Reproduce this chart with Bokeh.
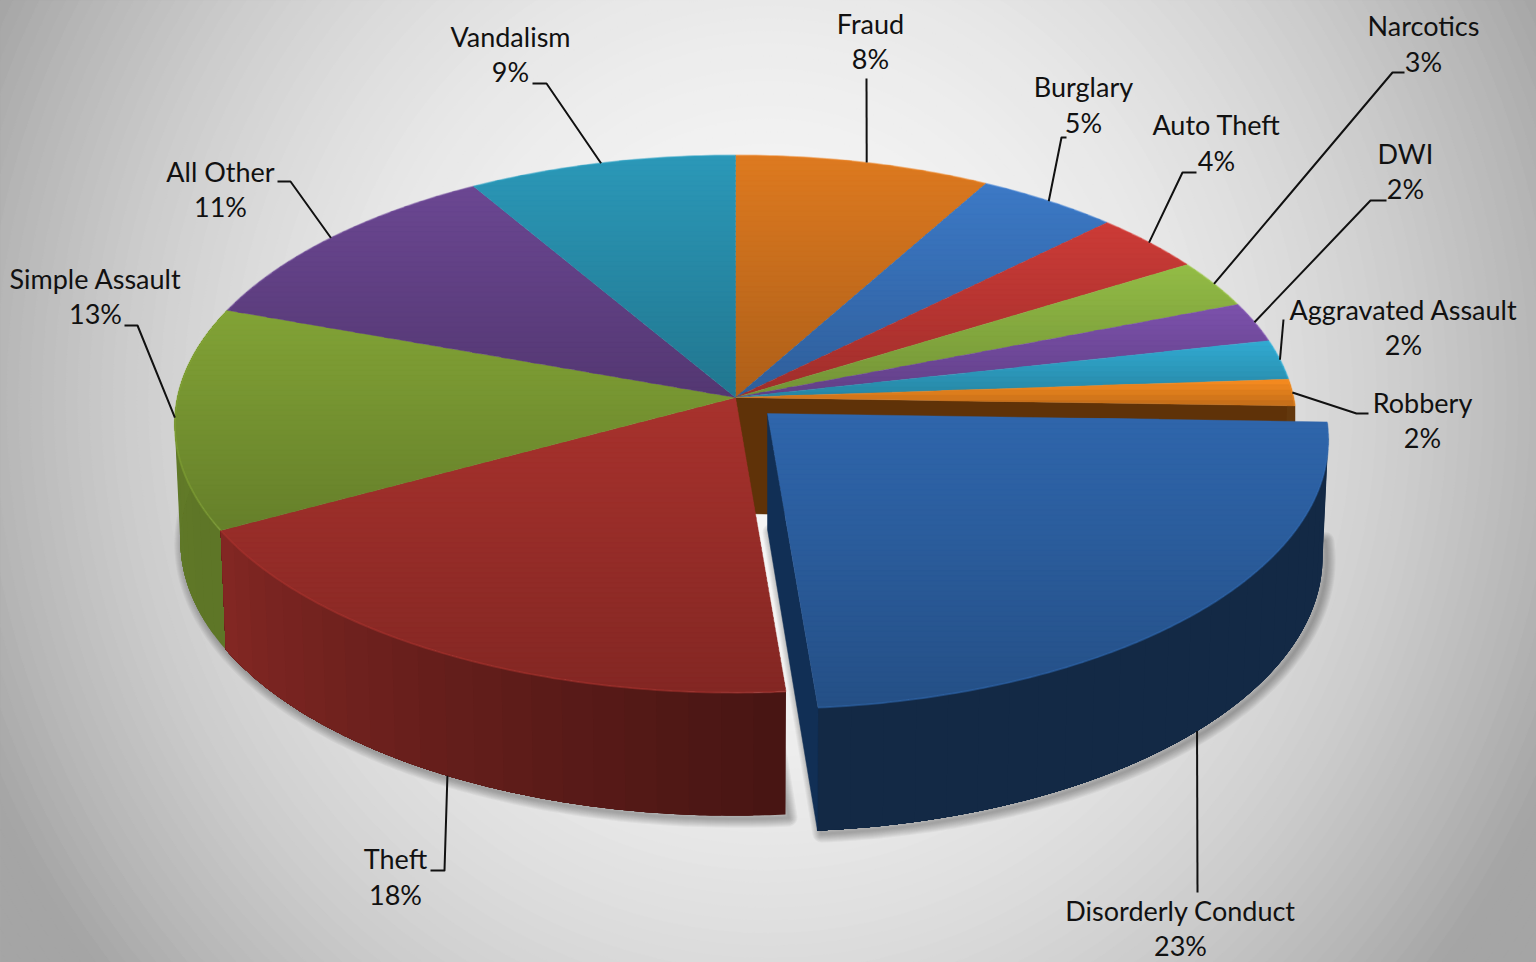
import math
import numpy as np
from bokeh.plotting import figure
from bokeh.models import Range1d
from bokeh.core.properties import value
from bokeh.embed import file_html
from bokeh.resources import INLINE

# ---- data -------------------------------------------------------------
categories = ["Fraud", "Burglary", "Auto Theft", "Narcotics", "DWI", "Aggravated Assault",
              "Robbery", "Disorderly Conduct", "Theft", "Simple Assault", "All Other", "Vandalism"]
shares = [8.1, 4.5, 3.6, 2.9, 2.4, 2.4, 1.6, 23.2, 18.4, 13.4, 11.0, 8.5]
share_labels = ["8%", "5%", "4%", "3%", "2%", "2%", "2%", "23%", "18%", "13%", "11%", "9%"]
colors = ["#DE7A20", "#3C79C6", "#CC3B37", "#93BC46", "#7C52AC", "#31ABD2",
          "#F88C20", "#2F66AC", "#A8322D", "#82A336", "#6B4792", "#2B98B8"]

# ---- layout -----------------------------------------------------------
FONT = "Lato"
FONT_SIZE = "27px"
TEXT_COLOR = "#111111"
TEXT_NUDGE = -2
CX, CY = 735.0, 397.0
RX, RY, K = 558.0, 266.0, 0.0987
DEPTH, BOTTOM_RX, BOTTOM_RY = 116.0, 0.99, 1.024
EXPLODED = 7
EX_DX, EX_DY = 32.0, 16.0
label_pos = [(870, 25, 60), (1083, 88, 124), (1216, 126, 162), (1423, 27, 63), (1405, 155, 190),
             (1403, 311, 346), (1422, 404, 439), (1180, 912, 947), (395, 860, 896),
             (95, 280, 315), (220, 173, 208), (510, 38, 73)]
elbows = [[(866, 78)], [(1061, 137), (1066, 137)], [(1182, 172), (1196, 172)],
          [(1392, 72), (1404, 72)], [(1370, 200), (1386, 200)], [(1283, 319)],
          [(1356, 413), (1368, 413)], [(1197, 892)], [(444, 870), (430, 870)],
          [(137, 325), (124, 325)], [(290, 181), (277, 181)], [(546, 83), (532, 83)]]
leader_from_bottom = {7, 8}
leader_nudge = {0: 3}
wall_shade = {6: (0.40, 0.40), 7: (0.40, 0.40), 8: (0.42, 0.78), 9: (0.72, 0.76)}


def hex2rgb(c):
    return np.array([int(c[i:i + 2], 16) for i in (1, 3, 5)], float)


def rgb2hex(c):
    return "#%02x%02x%02x" % tuple(int(round(max(0, min(255, x)))) for x in c)


def proj(theta, cx=CX, cy=CY, sx=1.0, sy=1.0):
    u, v = np.sin(theta), np.cos(theta)
    f = 1 + K * v
    return cx + RX * sx * u / f, cy - RY * sy * v / f


def bottom(theta, cx=CX, cy=CY):
    return proj(theta, cx, cy + DEPTH, BOTTOM_RX, BOTTOM_RY)


def arc(t0, t1, step=math.radians(0.75)):
    return np.linspace(t0, t1, max(2, int(abs(t1 - t0) / step) + 1))


def clip_band(pts, y0, y1):
    def clip(poly, keep, cross):
        out = []
        for i in range(len(poly)):
            a, b = poly[i], poly[(i + 1) % len(poly)]
            ka, kb = keep(a), keep(b)
            if ka:
                out.append(a)
            if ka != kb:
                t = (cross - a[1]) / (b[1] - a[1])
                out.append((a[0] + t * (b[0] - a[0]), cross))
        return out
    r = clip(pts, lambda q: q[1] >= y0, y0)
    if r:
        r = clip(r, lambda q: q[1] <= y1, y1)
    return r


total = sum(shares)
edges = np.cumsum([0] + shares) / total * 2 * math.pi
mids = (edges[:-1] + edges[1:]) / 2
centers = [(CX + EX_DX, CY + EX_DY) if i == EXPLODED else (CX, CY) for i in range(len(shares))]

p = figure(width=1536, height=962, x_range=Range1d(0, 1536), y_range=Range1d(962, 0),
           output_backend="svg", toolbar_location=None, min_border=0,
           background_fill_color="#a5a5a5", border_fill_color="#a5a5a5", outline_line_color=None)
p.axis.visible = False
p.grid.visible = False

# ---- backdrop: radial gradient ----------------------------------------
ring_xs, ring_ys, ring_cols = [], [], []
phi = np.linspace(0, 2 * np.pi, 121)
for t in np.linspace(1.4, 0.02, 100):
    lum = max(165.0, 246 - 78 * t ** 2.3)
    ring_xs.append(768 + t * 848 * np.cos(phi))
    ring_ys.append(400 + t * 900 * np.sin(phi))
    ring_cols.append(rgb2hex([lum, lum, lum]))
p.patches(ring_xs, ring_ys, fill_color=ring_cols, line_color=ring_cols, line_width=1)

# ---- soft shadows -----------------------------------------------------
th_main = arc(edges[EXPLODED + 1], 2 * math.pi)
mx, my = bottom(th_main)
mx = np.concatenate([[CX], mx]); my = np.concatenate([[CY + DEPTH], my])
th_ex = arc(edges[EXPLODED], edges[EXPLODED + 1])
ex_cx, ex_cy = centers[EXPLODED]
ex, ey = bottom(th_ex, ex_cx, ex_cy)
ex = np.concatenate([[ex_cx], ex]); ey = np.concatenate([[ex_cy + DEPTH], ey])
for w in range(18, 0, -2):
    for sx_, sy_ in ((mx + 3, my + 3), (ex + 4, ey + 3)):
        p.patch(sx_, sy_, fill_color="#444444", fill_alpha=0.0, line_color="#444444",
                line_alpha=0.05, line_width=w, line_join="round")

# ---- inner wall left by the exploded slice ----------------------------
rx0, ry0 = proj(edges[EXPLODED])
p.patch([CX, rx0, rx0, CX], [CY, ry0, ry0 + DEPTH, CY + DEPTH],
        fill_color="#5F3208", line_color="#5F3208", line_width=0.5)


def draw_wall(i):
    cx, cy = centers[i]
    base = hex2rgb(colors[i])
    s0, s1 = wall_shade[i]
    end = edges[i + 1]
    th = arc(edges[i], end, math.radians(3.0))
    xs, ys, cs = [], [], []
    # each strip reaches the end of the slice and the next one paints over it,
    # so that no seams show between the strips
    for a, b in zip(th[:-1], th[1:]):
        seg = arc(a, end, math.radians(0.5))
        tx, ty = proj(seg, cx, cy)
        bx, by = bottom(seg, cx, cy)
        xs.append(np.concatenate([tx, bx[::-1]]))
        ys.append(np.concatenate([ty, by[::-1]]))
        frac = ((a + b) / 2 - edges[i]) / (end - edges[i])
        cs.append(rgb2hex(base * (s0 + (s1 - s0) * frac)))
    p.patches(xs, ys, fill_color=cs, line_color=None)


def draw_top(i):
    cx, cy = centers[i]
    base = hex2rgb(colors[i])
    th = arc(edges[i], edges[i + 1])
    ax, ay = proj(th, cx, cy)
    poly = [(cx, cy)] + list(zip(ax, ay))
    y_lo, y_hi = min(q[1] for q in poly), max(q[1] for q in poly)
    n = max(2, int((y_hi - y_lo) / 5))
    cuts = np.linspace(y_lo, y_hi, n + 1)
    xs, ys, cs = [], [], []
    for j in range(n):
        band = clip_band(poly, cuts[j], cuts[j + 1] + 0.8)
        if len(band) < 3:
            continue
        xs.append([q[0] for q in band])
        ys.append([q[1] for q in band])
        cs.append(rgb2hex(base * (1.0 - 0.22 * (j + 0.5) / n)))
    p.patches(xs, ys, fill_color=cs, line_color=cs, line_width=0.4)
    p.line(ax, ay, line_color=rgb2hex(base * 1.08), line_alpha=0.4, line_width=2)


# ---- remaining pie ----------------------------------------------------
for i in (6, 9, 8):
    draw_wall(i)
for i in [j for j in range(len(shares)) if j != EXPLODED]:
    draw_top(i)

# ---- exploded slice ---------------------------------------------------
draw_wall(EXPLODED)
t_end = edges[EXPLODED + 1]
tx_, ty_ = proj(t_end, ex_cx, ex_cy)
bx_, by_ = bottom(t_end, ex_cx, ex_cy)
p.patch([ex_cx, tx_, bx_, ex_cx], [ex_cy, ty_, by_, ex_cy + DEPTH],
        fill_color="#112F55", line_color="#112F55", line_width=0.5)
draw_top(EXPLODED)

# ---- leaders and labels -----------------------------------------------
for i, bends in enumerate(elbows):
    cx, cy = centers[i]
    sx_, sy_ = bottom(mids[i], cx, cy) if i in leader_from_bottom else proj(mids[i], cx, cy)
    lx = [float(sx_) + leader_nudge.get(i, 0)] + [q[0] for q in bends]
    ly = [float(sy_)] + [q[1] for q in bends]
    p.line(lx, ly, line_color="#111111", line_width=2, line_join="round")

p.text([q[0] for q in label_pos], [q[1] + TEXT_NUDGE for q in label_pos], text=categories,
       text_font=value(FONT), text_font_size=FONT_SIZE, text_color=TEXT_COLOR,
       text_align="center", text_baseline="middle")
p.text([q[0] for q in label_pos], [q[2] + TEXT_NUDGE for q in label_pos], text=share_labels,
       text_font=value(FONT), text_font_size=FONT_SIZE, text_color=TEXT_COLOR,
       text_align="center", text_baseline="middle")

open("out.html", "w").write(file_html(p, INLINE))
